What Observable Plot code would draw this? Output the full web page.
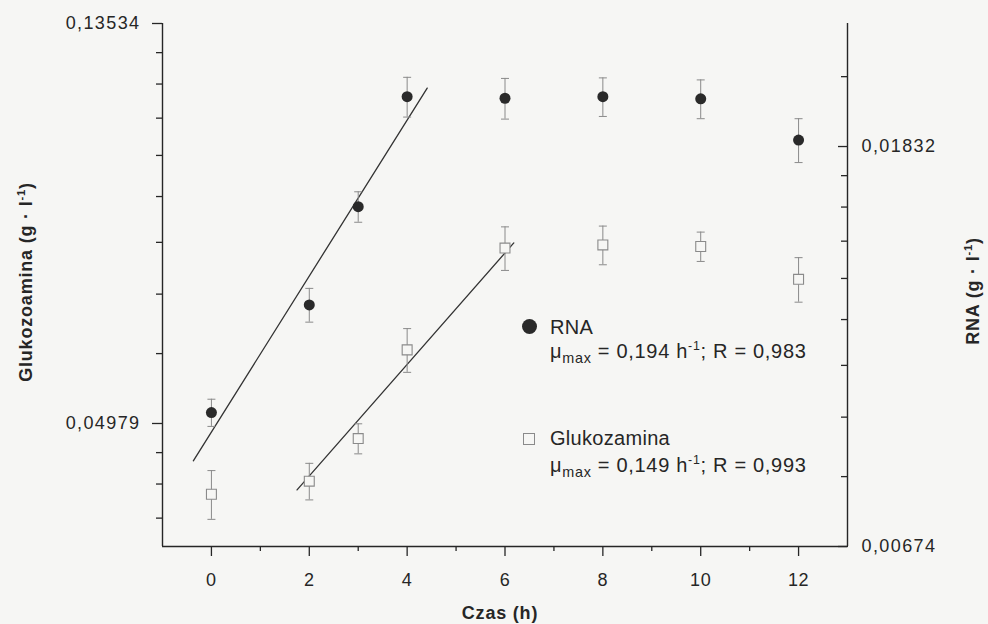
<!DOCTYPE html>
<html>
<head>
<meta charset="utf-8">
<script src="https://cdn.jsdelivr.net/npm/d3@7"></script>
<script src="https://cdn.jsdelivr.net/npm/@observablehq/plot@0.6"></script>
<style>
  html, body { margin: 0; padding: 0; background: #f6f6f4; }
  #wrap { position: relative; width: 988px; height: 624px; font-family: "Liberation Sans", Arial, sans-serif; color: #262626; }
  #wrap svg g[aria-label="y-axis tick label"] text { letter-spacing: 1.4px; }
  #wrap svg g[aria-label="x-axis tick label"] text { letter-spacing: 0.6px; }
  .t { position: absolute; white-space: nowrap; line-height: 1; }
  .title { font-weight: bold; font-size: 18px; letter-spacing: 0.8px; }
  .name { font-size: 20px; letter-spacing: 0.3px; }
  .mu { font-size: 20px; letter-spacing: 0.7px; }
  sup { font-size: 0.62em; vertical-align: 0.62em; line-height: 0; }
  sub { font-size: 0.72em; vertical-align: -0.38em; line-height: 0; }
  .mk { position: absolute; box-sizing: border-box; }
  .circ { width: 15px; height: 15px; border-radius: 50%; background: #2a2a2a; }
  .sq { width: 12px; height: 12px; border: 1.2px solid #8a8a8a; background: #f6f6f4; }
</style>
</head>
<body>
<div id="wrap"></div>
<script>
// ---- data ----
const hours = [0, 2, 3, 4, 6, 8, 10, 12];
const rnaValues = [0.00942, 0.01233, 0.01576, 0.02075, 0.02067, 0.02075, 0.02064, 0.01862];
const rnaErrors = [0.00032, 0.00052, 0.00060, 0.00103, 0.00105, 0.00100, 0.00100, 0.00102];
const glukValues = [0.04172, 0.04310, 0.04795, 0.05985, 0.07720, 0.07780, 0.07750, 0.07140];
const glukErrors = [0.00254, 0.00197, 0.00180, 0.00327, 0.00420, 0.00376, 0.00284, 0.00397];
const rnaFitHours = [-0.37, 4.41];
const rnaFitValues = [0.00835, 0.02120];
const glukFitHours = [1.75, 6.18];
const glukFitValues = [0.04217, 0.07820];

const xTicks = [0, 2, 4, 6, 8, 10, 12];
const xMinorTicks = [1, 3, 5, 7, 9, 11];
const leftTickValues = [0.13534, 0.04979];
const leftTickLabels = ["0,13534", "0,04979"];
const rightTickValues = [0.01832, 0.00674];
const rightTickLabels = ["0,01832", "0,00674"];

// ---- scale set-up ----
const LN_SPAN = 1.3075;                 // e-folds covered by each vertical axis
const yTop = leftTickValues[0];
const yBottom = yTop * Math.exp(-LN_SPAN);
const rightBottom = rightTickValues[1];
const rightTop = rightBottom * Math.exp(LN_SPAN);
const K = yBottom / rightBottom;         // maps RNA (right axis) onto the left log scale

// Origin-style ln-axis minor ticks: 9 linear steps between successive e-powers
const ePow = [0.13534, 0.04979, 0.01832, 0.00674];
function minorTicks(lo, hi) {
  const out = [];
  for (let j = 0; j < ePow.length - 1; j++) {
    const a = ePow[j], b = ePow[j + 1], step = (a - b) / 9;
    for (let k = 1; k < 9; k++) {
      const v = b + k * step;
      if (v > lo && v < hi) out.push(v);
    }
  }
  return out;
}
const leftMinor = minorTicks(yBottom, yTop);
const rightMinor = minorTicks(rightBottom, rightTop).map(v => v * K);

const rnaRows = hours.map((h, i) => ({
  h, v: rnaValues[i] * K,
  lo: (rnaValues[i] - rnaErrors[i]) * K, hi: (rnaValues[i] + rnaErrors[i]) * K
}));
const glukRows = hours.map((h, i) => ({
  h, v: glukValues[i],
  lo: glukValues[i] - glukErrors[i], hi: glukValues[i] + glukErrors[i]
}));
const rnaFit = rnaFitHours.map((h, i) => ({h, v: rnaFitValues[i] * K}));
const glukFit = glukFitHours.map((h, i) => ({h, v: glukFitValues[i]}));

const leftLabel = new Map(leftTickValues.map((v, i) => [v, leftTickLabels[i]]));
const rightMajor = rightTickValues.map(v => v * K);
const rightLabel = new Map(rightMajor.map((v, i) => [v, rightTickLabels[i]]));

const ink = "#262626";
const grey = "#8a8a8a";
const cap = {draw(ctx) { ctx.moveTo(-4, 0); ctx.lineTo(4, 0); }};
const FS = 18;

const chart = Plot.plot({
  width: 988,
  height: 624,
  marginLeft: 162,
  marginRight: 141,
  marginTop: 23,
  marginBottom: 78,
  style: {background: "#f6f6f4", color: ink, fontFamily: "'Liberation Sans', Arial, sans-serif", fontSize: "18px"},
  x: {domain: [-1, 13]},
  y: {type: "log", domain: [yBottom, yTop]},
  marks: [
    // axis lines
    Plot.ruleX([-1, 13], {stroke: ink, strokeWidth: 1.4}),
    Plot.ruleY([yBottom], {stroke: ink, strokeWidth: 1.4}),
    // x axis
    Plot.axisX({ticks: xTicks, tickSize: 10, tickPadding: 17, fontSize: FS, label: null, stroke: ink, strokeWidth: 1.3}),
    Plot.axisX({ticks: xMinorTicks, tickSize: 5, tickFormat: () => "", label: null, stroke: ink, strokeWidth: 1.3}),
    // left axis
    Plot.axisY({ticks: leftTickValues, tickSize: 10, tickPadding: 12, fontSize: FS, tickFormat: d => leftLabel.get(d), label: null, stroke: ink, strokeWidth: 1.3}),
    Plot.axisY({ticks: leftMinor, tickSize: 6, tickFormat: () => "", label: null, stroke: ink, strokeWidth: 1.3}),
    // right axis (ticks point inward)
    Plot.axisY({anchor: "right", ticks: rightMajor, tickSize: 10, insetRight: 10, tickPadding: 14, fontSize: FS, tickFormat: d => rightLabel.get(d), label: null, stroke: ink, strokeWidth: 1.3}),
    Plot.axisY({anchor: "right", ticks: rightMinor, tickSize: 7, insetRight: 7, tickFormat: () => "", label: null, stroke: ink, strokeWidth: 1.3}),
    // fitted lines
    Plot.line(rnaFit, {x: "h", y: "v", stroke: "#333", strokeWidth: 1.3}),
    Plot.line(glukFit, {x: "h", y: "v", stroke: "#333", strokeWidth: 1.3}),
    // error bars
    Plot.ruleX(glukRows, {x: "h", y1: "lo", y2: "hi", stroke: grey, strokeWidth: 1}),
    Plot.dot(glukRows, {x: "h", y: "lo", symbol: cap, stroke: grey, strokeWidth: 1, fill: "none"}),
    Plot.dot(glukRows, {x: "h", y: "hi", symbol: cap, stroke: grey, strokeWidth: 1, fill: "none"}),
    Plot.ruleX(rnaRows, {x: "h", y1: "lo", y2: "hi", stroke: grey, strokeWidth: 1}),
    Plot.dot(rnaRows, {x: "h", y: "lo", symbol: cap, stroke: grey, strokeWidth: 1, fill: "none"}),
    Plot.dot(rnaRows, {x: "h", y: "hi", symbol: cap, stroke: grey, strokeWidth: 1, fill: "none"}),
    // points
    Plot.dot(glukRows, {x: "h", y: "v", symbol: "square", r: 5.6, stroke: grey, strokeWidth: 1.1, fill: "#f6f6f4"}),
    Plot.dot(rnaRows, {x: "h", y: "v", r: 5.5, fill: "#2a2a2a", stroke: "none"})
  ]
});

const wrap = document.getElementById("wrap");
wrap.appendChild(chart);

const overlay = `
  <div class="t title" style="left:26px;top:282px;transform:translate(-50%,-50%) rotate(-90deg)">Glukozoamina (g · l<sup>-1</sup>)</div>
  <div class="t title" style="left:973px;top:291px;transform:translate(-50%,-50%) rotate(-90deg)">RNA (g · l<sup>-1</sup>)</div>
  <div class="t title" style="left:500px;top:613px;transform:translate(-50%,-50%)">Czas (h)</div>

  <span class="mk circ" style="left:522px;top:318.5px"></span>
  <div class="t name" style="left:550px;top:317px">RNA</div>
  <div class="t mu" style="left:550px;top:341px">μ<sub>max</sub> = 0,194 h<sup>-1</sup>; R = 0,983</div>

  <span class="mk sq" style="left:523px;top:432.5px"></span>
  <div class="t name" style="left:550px;top:428px">Glukozamina</div>
  <div class="t mu" style="left:550px;top:455px">μ<sub>max</sub> = 0,149 h<sup>-1</sup>; R = 0,993</div>
`;
wrap.insertAdjacentHTML("beforeend", overlay);
</script>
</body>
</html>
